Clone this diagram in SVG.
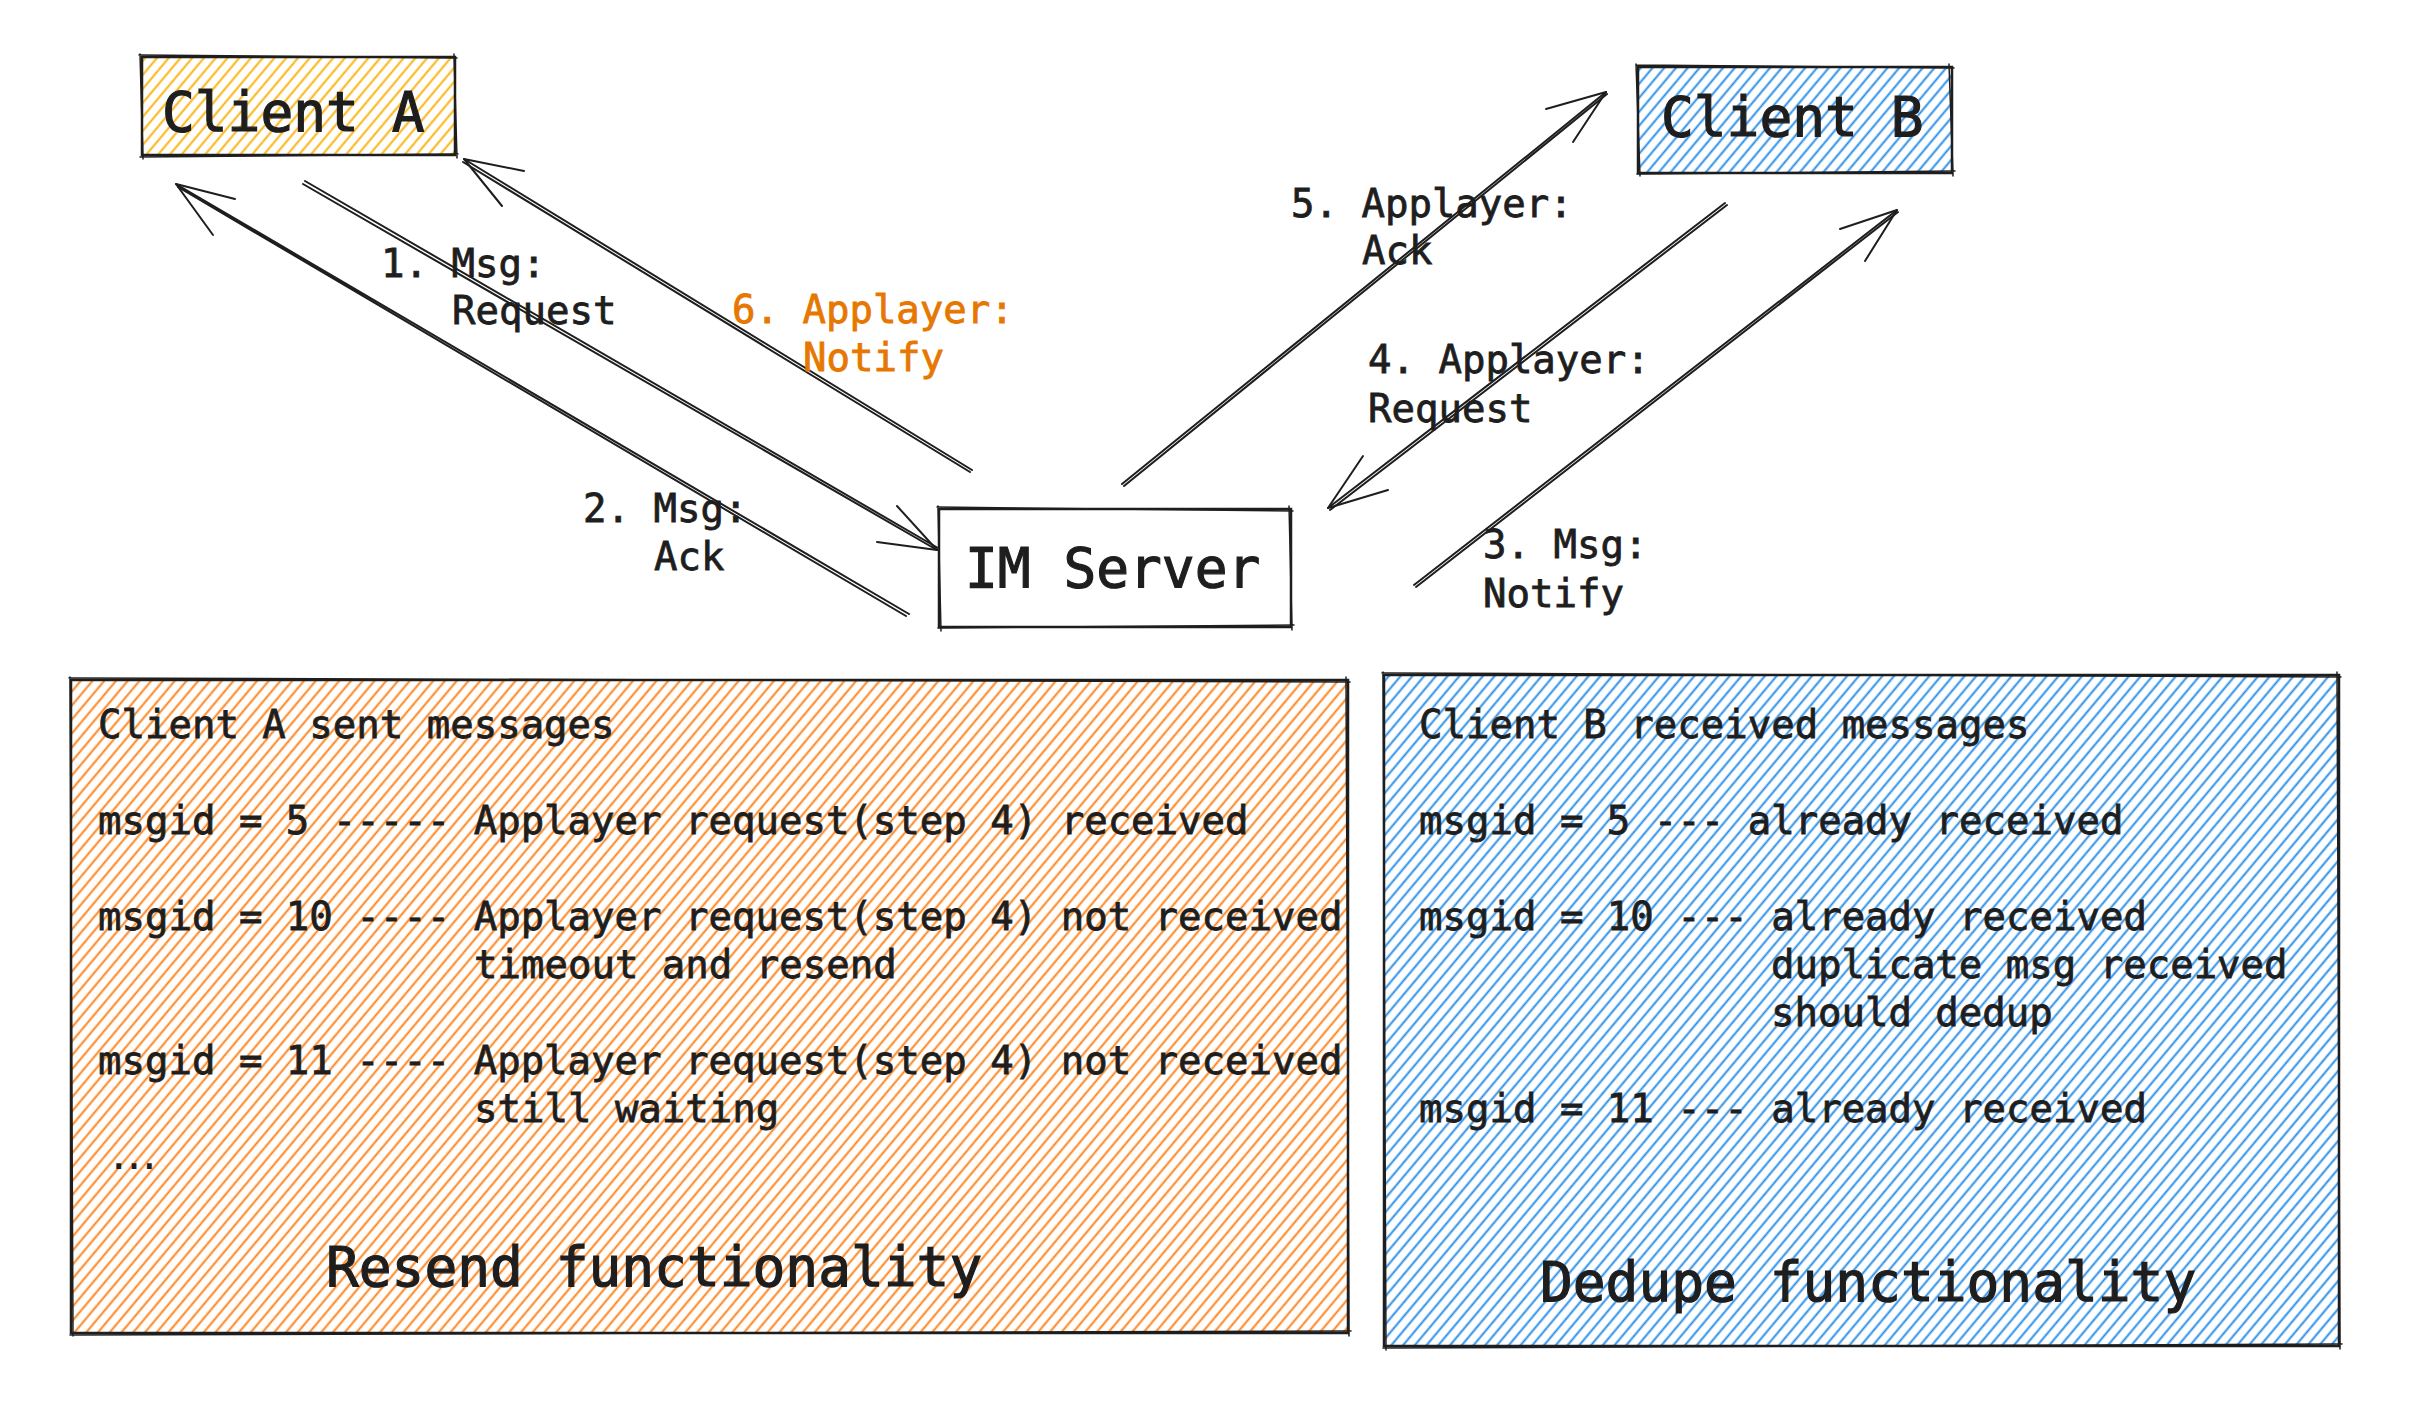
<svg xmlns="http://www.w3.org/2000/svg" width="2416" height="1406" viewBox="0 0 2416 1406">
<defs>
<pattern id="hY" patternUnits="userSpaceOnUse" width="9" height="9" patternTransform="rotate(-50)"><line x1="0" y1="4.5" x2="9" y2="4.5" stroke="#fab005" stroke-width="1.9"/></pattern>
<pattern id="hB" patternUnits="userSpaceOnUse" width="9" height="9" patternTransform="rotate(-50)"><line x1="0" y1="4.5" x2="9" y2="4.5" stroke="#228be6" stroke-width="1.9"/></pattern>
<pattern id="hO" patternUnits="userSpaceOnUse" width="9" height="9" patternTransform="rotate(-50)"><line x1="0" y1="4.5" x2="9" y2="4.5" stroke="#fd7e14" stroke-width="1.9"/></pattern>
</defs>
<style>
.box{stroke:#1e1e1e;stroke-width:2.5;fill:none;stroke-linecap:round}
.sk{stroke:#1e1e1e;stroke-width:1.5;fill:none;stroke-linecap:round}
.ar{stroke:#1e1e1e;stroke-width:2;fill:none;stroke-linecap:round;stroke-linejoin:round}
.big{font-family:"DejaVu Sans Mono","Liberation Mono",monospace;font-size:54.5px;fill:#1e1e1e;stroke:#1e1e1e;stroke-width:1.2}
.t{font-family:"DejaVu Sans Mono","Liberation Mono",monospace;font-size:39px;fill:#1e1e1e;stroke:#1e1e1e;stroke-width:0.8}
.or{fill:#e67700;stroke:#e67700}
</style>
<rect width="2416" height="1406" fill="#ffffff"/>

<g id="client-a">
<rect x="142" y="57" width="313" height="98" fill="url(#hY)"/>
<path class="box" d="M142,57 L455,57 L455,155 L142,155 Z"/>
<path class="sk" d="M139,55 L457,58 M454,54 L457,158 M458,154 L140,157 M143,159 L140,54"/>
<text class="big" x="162" y="131">Client A</text>
</g>

<g id="client-b">
<rect x="1638" y="67" width="314" height="106" fill="url(#hB)"/>
<path class="box" d="M1638,67 L1952,67 L1952,173 L1638,173 Z"/>
<path class="sk" d="M1636,65 L1954,68 M1949,64 L1953,176 M1955,171 L1637,174 M1640,176 L1636,64"/>
<text class="big" x="1661" y="136">Client B</text>
</g>

<g id="im-server">
<rect x="939" y="509" width="352" height="118" fill="#ffffff"/>
<path class="box" d="M939,509 L1291,509 L1291,627 L939,627 Z"/>
<path class="sk" d="M937,507 L1293,511 M1289,506 L1292,630 M1294,625 L938,628 M941,631 L938,506"/>
<text class="big" x="965" y="587">IM Server</text>
</g>

<g id="resend-box">
<rect x="71" y="680" width="1277" height="653" fill="url(#hO)"/>
<path class="box" d="M71,680 L1348,680 L1348,1333 L71,1333 Z"/>
<path class="sk" d="M69,678 L1350,682 M1346,677 L1349,1336 M1351,1331 L70,1335 M73,1336 L70,677"/>
<text class="t" x="98" y="738">Client A sent messages</text>
<text class="t" x="98" y="834">msgid = 5 ----- Applayer request(step 4) received</text>
<text class="t" x="98" y="930">msgid = 10 ---- Applayer request(step 4) not received</text>
<text class="t" x="474" y="978">timeout and resend</text>
<text class="t" x="98" y="1074">msgid = 11 ---- Applayer request(step 4) not received</text>
<text class="t" x="474" y="1122">still waiting</text>
<text x="111" y="1169" style="font-family:'DejaVu Sans',sans-serif;font-size:46px;fill:#1e1e1e">…</text>
<text class="big" x="326" y="1286">Resend functionality</text>
</g>

<g id="dedupe-box">
<rect x="1384" y="675" width="955" height="671" fill="url(#hB)"/>
<path class="box" d="M1384,675 L2339,675 L2339,1346 L1384,1346 Z"/>
<path class="sk" d="M1382,673 L2341,677 M2337,672 L2340,1349 M2342,1344 L1383,1348 M1386,1350 L1383,672"/>
<text class="t" x="1419" y="738">Client B received messages</text>
<text class="t" x="1419" y="834">msgid = 5 --- already received</text>
<text class="t" x="1419" y="930">msgid = 10 --- already received</text>
<text class="t" x="1771" y="978">duplicate msg received</text>
<text class="t" x="1771" y="1026">should dedup</text>
<text class="t" x="1419" y="1122">msgid = 11 --- already received</text>
<text class="big" x="1540" y="1301">Dedupe functionality</text>
</g>

<g id="connectors">
<g id="arrow-1">
<path class="ar" d="M303,184 L937,550 M305,181 L938,548"/>
<path class="ar" d="M897,506 L937,550 L877,542"/>
</g>
<g id="arrow-2">
<path class="ar" d="M909,614 L176,184 M906,616 L178,187"/>
<path class="ar" d="M235,199 L176,184 L213,235"/>
</g>
<g id="arrow-3">
<path class="ar" d="M1414,585 L1897,210 M1416,587 L1898,212"/>
<path class="ar" d="M1840,229 L1897,210 L1865,261"/>
</g>
<g id="arrow-4">
<path class="ar" d="M1725,203 L1328,508 M1727,205 L1330,510"/>
<path class="ar" d="M1363,456 L1328,508 L1388,490"/>
</g>
<g id="arrow-5">
<path class="ar" d="M1122,484 L1606,92 M1124,486 L1607,94"/>
<path class="ar" d="M1546,109 L1606,92 L1573,142"/>
</g>
<g id="arrow-6">
<path class="ar" d="M972,470 L464,159 M970,472 L463,162"/>
<path class="ar" d="M524,171 L464,159 L502,206"/>
</g>
</g>

<g id="labels">
<text class="t" x="381" y="277">1. Msg:</text>
<text class="t" x="452" y="324">Request</text>
<text class="t" x="583" y="522">2. Msg:</text>
<text class="t" x="654" y="570">Ack</text>
<text class="t" x="1483" y="558">3. Msg:</text>
<text class="t" x="1483" y="607">Notify</text>
<text class="t" x="1368" y="373">4. Applayer:</text>
<text class="t" x="1368" y="422">Request</text>
<text class="t" x="1291" y="217">5. Applayer:</text>
<text class="t" x="1362" y="264">Ack</text>
<text class="t or" x="732" y="323">6. Applayer:</text>
<text class="t or" x="803" y="371">Notify</text>
</g>
</svg>
